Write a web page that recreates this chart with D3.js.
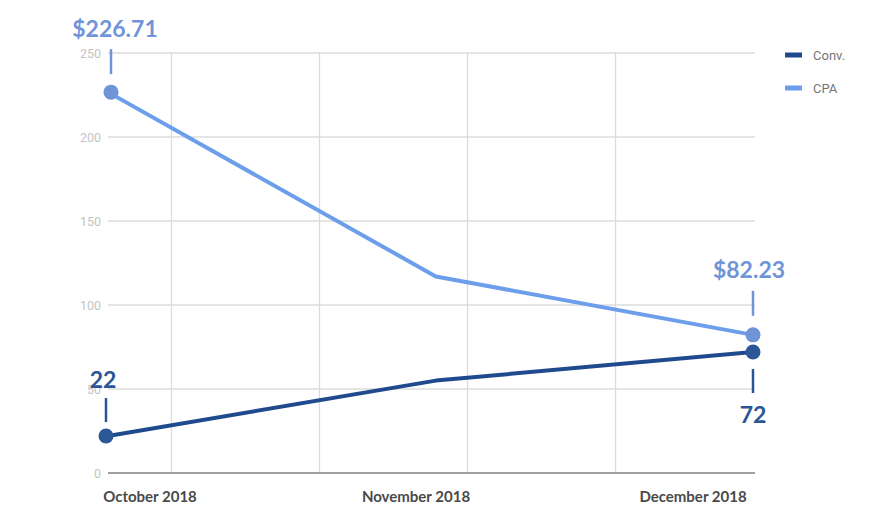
<!DOCTYPE html>
<html><head><meta charset="utf-8">
<script src="https://cdn.jsdelivr.net/npm/d3@7"></script>
<style>html,body{margin:0;padding:0;background:#fff;}svg{display:block;}</style>
</head><body>
<svg id="chart" width="890" height="527"></svg>
<script>
const months = ["2018-10-01", "2018-11-01", "2018-12-01"];
const monthLabels = ["October 2018", "November 2018", "December 2018"];
const convValues = [22, 55, 72];
const cpaValues = [226.71, 117, 82.23];
const yTicks = [0, 50, 100, 150, 200, 250];
const seriesNames = ["Conv.", "CPA"];
const cpaLabels = ["$226.71", "$82.23"];
const convLabels = ["22", "72"];

const parse = d3.timeParse("%Y-%m-%d");
const dates = months.map(parse);
const svg = d3.select("#chart");

const x = d3.scaleTime().domain([dates[0], dates[2]]).range([108, 753]);
const y = d3.scaleLinear().domain([0, 250]).range([473, 53]);
const xLeft = 108, xRight = 755;

const colConvLine = "#1f4b8e", colCpaLine = "#6d9eeb";
const colConvDot = "#2c5797", colCpaDot = "#6f95d8";

// vertical gridlines every two weeks on Sundays
const vTicks = d3.timeSunday.range(dates[0], dates[2], 2);
svg.append("g").selectAll("line").data(vTicks).join("line")
  .attr("x1", d => x(d)).attr("x2", d => x(d))
  .attr("y1", y(250)).attr("y2", y(0))
  .attr("stroke", "#dcdcdc").attr("stroke-width", 1.3);

// horizontal gridlines
svg.append("g").selectAll("line").data(yTicks.filter(d => d > 0)).join("line")
  .attr("x1", xLeft).attr("x2", xRight)
  .attr("y1", d => y(d)).attr("y2", d => y(d))
  .attr("stroke", "#dcdcdc").attr("stroke-width", 1.3);

// baseline
svg.append("line").attr("x1", xLeft).attr("x2", xRight)
  .attr("y1", y(0)).attr("y2", y(0)).attr("stroke", "#a0a0a0").attr("stroke-width", 2);

// y axis labels
const yAxis = d3.axisLeft(y).tickValues(yTicks).tickSize(0).tickPadding(0);
const yg = svg.append("g").attr("transform", "translate(101,0)").call(yAxis);
yg.select(".domain").remove();
yg.selectAll("text").attr("fill", "#c4c4c4").attr("font-family", "Roboto, Arial, sans-serif").attr("font-size", 12.5);

// x labels
const xLabelPos = [150, 416, 693];
svg.append("g").selectAll("text").data(monthLabels).join("text")
  .attr("x", (d, i) => xLabelPos[i]).attr("y", 502)
  .attr("text-anchor", "middle")
  .attr("font-family", "Lato, sans-serif").attr("font-weight", 700).attr("font-size", 15)
  .attr("fill", "#4a4a4a").text(d => d);

// lines
const line = vals => d3.line().x((d, i) => x(dates[i])).y(d => y(d))(vals);
svg.append("path").attr("d", line(cpaValues)).attr("fill", "none")
  .attr("stroke", colCpaLine).attr("stroke-width", 4).attr("stroke-linejoin", "round");
svg.append("path").attr("d", line(convValues)).attr("fill", "none")
  .attr("stroke", colConvLine).attr("stroke-width", 4).attr("stroke-linejoin", "round");

// end dots
const ends = [0, 2];
svg.append("g").selectAll("circle").data(ends).join("circle")
  .attr("cx", i => x(dates[i]) + (i === 0 ? 3 : 0)).attr("cy", i => y(cpaValues[i]))
  .attr("r", 7.5).attr("fill", colCpaDot);
svg.append("g").selectAll("circle").data(ends).join("circle")
  .attr("cx", i => x(dates[i]) - (i === 0 ? 2 : 0)).attr("cy", i => y(convValues[i]))
  .attr("r", 7.5).attr("fill", colConvDot);

// annotations
function annot(px, lineY1, lineY2, textX, textY, txt, color) {
  svg.append("line").attr("x1", px).attr("x2", px).attr("y1", lineY1).attr("y2", lineY2)
    .attr("stroke", color).attr("stroke-width", 2.5);
  svg.append("text").attr("x", textX).attr("y", textY).attr("text-anchor", "middle")
    .attr("font-family", "Lato, sans-serif").attr("font-weight", 700).attr("font-size", 23)
    .attr("fill", color).text(txt);
}
const cx0 = x(dates[0]), cx2 = x(dates[2]);
annot(cx0 + 3, y(cpaValues[0]) - 43, y(cpaValues[0]) - 18, cx0 + 7, 37, cpaLabels[0], "#6f94d8");
annot(cx2, y(cpaValues[2]) - 44, y(cpaValues[2]) - 19, cx2 - 4, 278, cpaLabels[1], "#6f94d8");
annot(cx0 - 2, y(convValues[0]) - 38, y(convValues[0]) - 14, cx0 - 5, 388, convLabels[0], "#2a5596");
annot(cx2, y(convValues[2]) + 17, y(convValues[2]) + 41, cx2, 423, convLabels[1], "#2a5596");

// legend
const legColors = [colConvLine, colCpaLine];
const leg = svg.append("g").selectAll("g").data(seriesNames).join("g")
  .attr("transform", (d, i) => `translate(785,${55 + i * 33})`);
leg.append("rect").attr("x", 0).attr("y", -2.5).attr("width", 17).attr("height", 5)
  .attr("fill", (d, i) => legColors[i]);
leg.append("text").attr("x", 28).attr("y", 0).attr("dy", "0.35em")
  .attr("font-family", "Roboto, Arial, sans-serif").attr("font-size", 13)
  .attr("fill", "#757575").text(d => d);
</script>
</body></html>
